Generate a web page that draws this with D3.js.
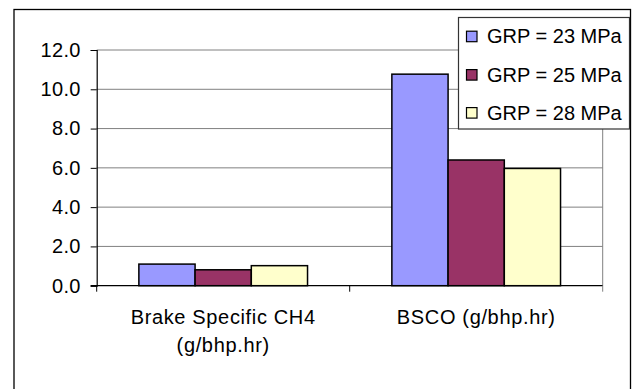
<!DOCTYPE html>
<html>
<head>
<meta charset="utf-8">
<script src="https://cdn.jsdelivr.net/npm/d3@7"></script>
<style>
  html, body { margin: 0; padding: 0; background: #fff; }
  svg { display: block; }
  text { font-family: "Liberation Sans", Arial, sans-serif; fill: #000; }
</style>
</head>
<body>
<svg id="chart" width="639" height="389"></svg>
<script>
// Emission categories (x axis), two-line labels
const categories = ["Brake Specific CH4 (g/bhp.hr)", "BSCO (g/bhp.hr)"];
const categoryLines = [["Brake Specific CH4", "(g/bhp.hr)"], ["BSCO (g/bhp.hr)"]];

// Series: injection pressure
const seriesNames = ["GRP = 23 MPa", "GRP = 25 MPa", "GRP = 28 MPa"];
const seriesColors = ["#9999FF", "#993366", "#FFFFCC"];
const grp23 = [1.10, 10.77];
const grp25 = [0.81, 6.40];
const grp28 = [1.02, 5.97];
const seriesValues = [grp23, grp25, grp28];

// Y axis ticks
const yTicks = [0, 2, 4, 6, 8, 10, 12];

const svg = d3.select("#chart");

// Outer chart frame
svg.append("rect")
  .attr("x", 14).attr("y", 9.5)
  .attr("width", 616.5).attr("height", 400)
  .attr("fill", "#fff").attr("stroke", "#000").attr("stroke-width", 1.3);

const plot = { left: 96.7, right: 602.7, top: 50, bottom: 285.7 };

const x0 = d3.scaleBand().domain(categories).range([plot.left, plot.right]).paddingInner(0).paddingOuter(0);
// 150% gap width between groups
const x1 = d3.scaleBand().domain(seriesNames)
  .range([0, x0.bandwidth()]).paddingInner(0).paddingOuter(0.75);
const y = d3.scaleLinear().domain([0, 12]).range([plot.bottom, plot.top]);

// Gridlines
svg.append("g").selectAll("line").data(yTicks.filter(d => d > 0)).join("line")
  .attr("x1", plot.left).attr("x2", plot.right)
  .attr("y1", d => y(d)).attr("y2", d => y(d))
  .attr("stroke", "#808080").attr("stroke-width", 1);

// Right border of plot area
svg.append("line")
  .attr("x1", plot.right).attr("x2", plot.right)
  .attr("y1", plot.top).attr("y2", plot.bottom)
  .attr("stroke", "#808080").attr("stroke-width", 1);

// Bars
const groups = svg.append("g").selectAll("g").data(categories).join("g")
  .attr("transform", d => `translate(${x0(d)},0)`);
groups.selectAll("rect")
  .data((c, ci) => seriesNames.map((s, si) => ({ s, si, v: seriesValues[si][ci] })))
  .join("rect")
  .attr("x", d => x1(d.s))
  .attr("width", x1.bandwidth())
  .attr("y", d => y(d.v))
  .attr("height", d => y(0) - y(d.v))
  .attr("fill", d => seriesColors[d.si])
  .attr("stroke", "#000").attr("stroke-width", 1.5);

// Y axis
const yAxis = d3.axisLeft(y).tickValues(yTicks).tickFormat(d3.format(".1f")).tickSize(6).tickPadding(10);
const yg = svg.append("g").attr("transform", `translate(${plot.left},0)`).call(yAxis);
yg.select(".domain").attr("stroke", "#000").attr("stroke-width", 1.2);
yg.selectAll(".tick line").attr("stroke", "#000");
yg.selectAll(".tick text")
  .style("font-size", "20px")
  .style("letter-spacing", "0.3px")
  .style("font-family", "'Liberation Sans', Arial, sans-serif");

// X axis line and ticks at category boundaries
svg.append("line")
  .attr("x1", plot.left - 6).attr("x2", plot.right)
  .attr("y1", plot.bottom).attr("y2", plot.bottom)
  .attr("stroke", "#000").attr("stroke-width", 1.2);
const bounds = categories.map(c => x0(c)).concat([plot.right]);
svg.append("g").selectAll("line").data(bounds).join("line")
  .attr("x1", d => d).attr("x2", d => d)
  .attr("y1", plot.bottom).attr("y2", plot.bottom + 6)
  .attr("stroke", (d, i) => i === bounds.length - 1 ? "#808080" : "#000");

// Category labels
const xl = svg.append("g").selectAll("text").data(categories).join("text")
  .attr("x", d => x0(d) + x0.bandwidth() / 2)
  .attr("y", 324)
  .attr("text-anchor", "middle")
  .style("font-size", "20px")
  .style("letter-spacing", "0.65px");
xl.selectAll("tspan").data((d, i) => categoryLines[i]).join("tspan")
  .attr("x", function() { return d3.select(this.parentNode).attr("x"); })
  .attr("dy", (d, i) => i === 0 ? 0 : 28)
  .text(d => d);

// Legend
const lg = svg.append("g");
lg.append("rect")
  .attr("x", 458.5).attr("y", 17.5).attr("width", 171).attr("height", 111.5)
  .attr("fill", "#fff").attr("stroke", "#333").attr("stroke-width", 1.2);
const rowY = [36.2, 74.6, 112.6];
const items = lg.selectAll("g").data(seriesNames).join("g")
  .attr("transform", (d, i) => `translate(466,${rowY[i]})`);
items.append("rect")
  .attr("x", 0.5).attr("y", -5).attr("width", 10.5).attr("height", 10.5)
  .attr("fill", (d, i) => seriesColors[i]).attr("stroke", "#000").attr("stroke-width", 1.2);
items.append("text")
  .attr("x", 21).attr("y", 7)
  .style("font-size", "20px")
  .text(d => d);
</script>
</body>
</html>
